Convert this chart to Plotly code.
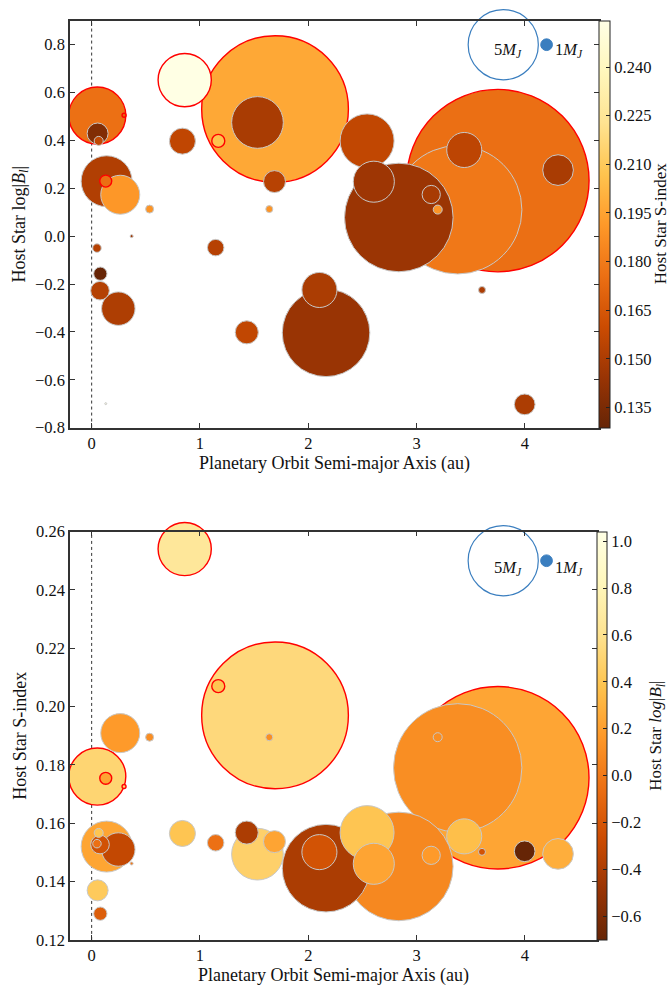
import numpy as np
import plotly.graph_objects as go

# ---------------- data ----------------
semi_major_axis = [3.75, 3.38, 2.836, 1.693, 2.164, 1.531, 0.859, 0.052, 0.299, 0.055,
                   0.065, 0.138, 0.13, 0.264, 0.535, 0.369, 0.838, 1.169, 1.688, 1.64,
                   1.145, 0.049, 0.08, 0.077, 0.246, 1.432, 2.103, 0.13, 2.543, 2.605,
                   3.135, 3.195, 3.44, 4.306, 3.604, 3.998]
log_b = [0.232, 0.11, 0.078, 0.531, -0.404, 0.475, 0.652, 0.504, 0.505, 0.429,
         0.398, 0.2295, 0.23, 0.173, 0.113, 0.0, 0.397, 0.398, 0.228, 0.113,
         -0.048, -0.05, -0.157, -0.228, -0.303, -0.402, -0.225, -0.70, 0.398, 0.2275,
         0.174, 0.111, 0.36, 0.276, -0.225, -0.703]
s_index = [0.1756, 0.179, 0.1452, 0.197, 0.1446, 0.1494, 0.254, 0.176, 0.1726, 0.137,
           0.1567, 0.152, 0.1754, 0.1909, 0.1895, 0.1462, 0.1565, 0.207, 0.1537, 0.1895,
           0.1533, 0.153, 0.129, 0.1527, 0.151, 0.1568, 0.1501, 0.27, 0.1568, 0.1461,
           0.149, 0.1895, 0.1555, 0.1495, 0.1502, 0.1504]
planet_mass = [11.8, 8.6, 7.4, 9.7, 6.1, 3.8, 3.9, 4.15, 0.38, 1.69,
               0.79, 3.75, 1.02, 2.95, 0.71, 0.29, 2.05, 1.10, 1.76, 0.63,
               1.36, 0.75, 1.12, 1.52, 2.57, 1.84, 2.68, 0.20, 3.95, 3.09,
               1.49, 0.79, 2.68, 2.38, 0.63, 1.67]
red_edge = [1, 0, 0, 1, 0, 0, 1, 1, 1, 0,
            0, 0, 1, 0, 0, 0, 0, 1, 0, 0,
            0, 0, 0, 0, 0, 0, 0, 0, 0, 0,
            0, 0, 0, 0, 0, 0]

s_color_range = [0.1288, 0.2543]
logb_color_range = [-0.70, 1.04]
legend_masses = [5, 1]
legend_x = [3.8, 4.2]
legend_y_top = 0.8
legend_y_bottom = 0.25

s_ticks = [0.135, 0.150, 0.165, 0.180, 0.195, 0.210, 0.225, 0.240]
logb_cb_ticks = [-0.6, -0.4, -0.2, 0.0, 0.2, 0.4, 0.6, 0.8, 1.0]
logb_axis_ticks = [-0.8, -0.6, -0.4, -0.2, 0.0, 0.2, 0.4, 0.6, 0.8]
s_axis_ticks = [0.12, 0.14, 0.16, 0.18, 0.20, 0.22, 0.24, 0.26]
x_ticks = [0, 1, 2, 3, 4]

x_range_top = [-0.2, 4.684]
x_range_bottom = [-0.2, 4.666]
y_range_top = [-0.8, 0.9]
y_range_bottom = [0.12, 0.26]

# ---------------- styling ----------------
W, H = 669, 998
FONT = "Liberation Serif"
TICK_FS = 16.5
TITLE_FS = 18
CB_TITLE_FS = 17
BLUE = "#3a7ebf"
FRAME = "#333333"

TOP_Y0, TOP_Y1 = 12, 426.7        # pixel rows of the top panel
BOT_Y0, BOT_Y1 = 532.7, 949       # pixel rows of the bottom panel
CB_TITLE_X_TOP = 660
CB_TITLE_X_BOT = 657


def diameter(m):
    return 11.7 * np.power(np.asarray(m, dtype=float), 1.113)


def fmt(v, d):
    s = f"{v:.{d}f}"
    return s.replace("-", "\u2212")


order = np.argsort(-np.asarray(planet_mass), kind="stable")
xa = np.asarray(semi_major_axis)[order]
lb = np.asarray(log_b)[order]
si = np.asarray(s_index)[order]
sz = diameter(np.asarray(planet_mass)[order])
red = np.asarray(red_edge)[order]
edge_col = np.array(["#ff0000" if r else "#c8c8c8" for r in red])
edge_w = np.array([1.4 if r else 1.0 for r in red])

# points whose centre lies outside an axis range are not drawn on that panel
in_top = (lb >= y_range_top[0]) & (lb <= y_range_top[1])
in_bot = (si >= y_range_bottom[0]) & (si <= y_range_bottom[1])

cscale = "YlOrBr_r"


def cbar(x_px, y0, y1, thick, vals, dec):
    return dict(x=x_px / W, xanchor="left", xpad=0,
                y=1 - (y0 + y1) / 2 / H, yanchor="middle", ypad=0,
                len=(y1 - y0) / H, lenmode="fraction", thickness=thick,
                outlinecolor="#222", outlinewidth=1,
                ticks="inside", ticklen=4, tickcolor="#222",
                tickvals=vals, ticktext=[fmt(v, dec) for v in vals],
                tickfont=dict(family=FONT, size=TICK_FS, color="#111"))


fig = go.Figure()

# top: log|B| vs a, coloured by S-index
fig.add_trace(go.Scatter(
    x=xa[in_top], y=lb[in_top], mode="markers", xaxis="x", yaxis="y", cliponaxis=False,
    marker=dict(size=sz[in_top], sizemode="diameter", color=si[in_top], colorscale=cscale,
                cmin=s_color_range[0], cmax=s_color_range[1], opacity=1,
                line=dict(color=list(edge_col[in_top]), width=list(edge_w[in_top])),
                colorbar=cbar(599, TOP_Y0, TOP_Y1, 11, s_ticks, 3)),
    showlegend=False, hoverinfo="skip"))

# bottom: S-index vs a, coloured by log|B|
fig.add_trace(go.Scatter(
    x=xa[in_bot], y=si[in_bot], mode="markers", xaxis="x2", yaxis="y2", cliponaxis=False,
    marker=dict(size=sz[in_bot], sizemode="diameter", color=lb[in_bot], colorscale=cscale,
                cmin=logb_color_range[0], cmax=logb_color_range[1], opacity=1,
                line=dict(color=list(edge_col[in_bot]), width=list(edge_w[in_bot])),
                colorbar=cbar(597, BOT_Y0, BOT_Y1, 10, logb_cb_ticks, 1)),
    showlegend=False, hoverinfo="skip"))

# mass legend markers
for xr, yr, ly in (("x", "y", legend_y_top), ("x2", "y2", legend_y_bottom)):
    fig.add_trace(go.Scatter(
        x=[legend_x[0]], y=[ly], mode="markers", xaxis=xr, yaxis=yr, cliponaxis=False,
        marker=dict(size=diameter(legend_masses[0]), color="rgba(0,0,0,0)",
                    line=dict(color=BLUE, width=1.2)),
        showlegend=False, hoverinfo="skip"))
    fig.add_trace(go.Scatter(
        x=[legend_x[1]], y=[ly], mode="markers", xaxis=xr, yaxis=yr, cliponaxis=False,
        marker=dict(size=diameter(legend_masses[1]), color=BLUE,
                    line=dict(color=BLUE, width=1)),
        showlegend=False, hoverinfo="skip"))

annotations = []
for xr, yr, ly in (("x", "y", 0.776), ("x2", "y2", 0.2475)):
    annotations.append(dict(x=3.693, y=ly, xref=xr, yref=yr, xanchor="left", yanchor="middle",
                            text=f"{legend_masses[0]}<i>M</i><sub><i>J</i></sub>", showarrow=False,
                            font=dict(family=FONT, size=TICK_FS, color="#111")))
    annotations.append(dict(x=4.263, y=ly, xref=xr, yref=yr, xanchor="left", yanchor="middle",
                            text=f"{legend_masses[1]}<i>M</i><sub><i>J</i></sub>", showarrow=False,
                            font=dict(family=FONT, size=TICK_FS, color="#111")))

# colour-bar titles
annotations.append(dict(x=CB_TITLE_X_TOP / W, y=1 - (TOP_Y0 + TOP_Y1) / 2 / H,
                        xref="paper", yref="paper",
                        xanchor="center", yanchor="middle", textangle=-90, showarrow=False,
                        text="Host Star S-index",
                        font=dict(family=FONT, size=CB_TITLE_FS, color="#111")))
annotations.append(dict(x=CB_TITLE_X_BOT / W, y=1 - (BOT_Y0 + BOT_Y1) / 2 / H,
                        xref="paper", yref="paper",
                        xanchor="center", yanchor="middle", textangle=-90, showarrow=False,
                        text="Host Star <i>log</i>|<i>B</i><sub><i>l</i></sub>|",
                        font=dict(family=FONT, size=CB_TITLE_FS, color="#111")))

shapes = []
for xr, yr in (("x", "y domain"), ("x2", "y2 domain")):
    shapes.append(dict(type="line", xref=xr, yref=yr, x0=0, x1=0, y0=0, y1=1,
                       line=dict(color="#333", width=1, dash="dot"), layer="below"))

axis_common = dict(showline=True, mirror="ticks", linecolor=FRAME, linewidth=1.5,
                   ticks="inside", ticklen=5, tickcolor=FRAME, showgrid=False, zeroline=False,
                   tickfont=dict(family=FONT, size=TICK_FS, color="#111"))

xtitle = dict(text="Planetary Orbit Semi-major Axis (au)",
              font=dict(family=FONT, size=TITLE_FS, color="#111"), standoff=4)

fig.update_layout(
    width=W, height=H, margin=dict(l=0, r=0, t=0, b=0),
    paper_bgcolor="white", plot_bgcolor="white",
    font=dict(family=FONT, color="#111"),
    xaxis=dict(domain=[70 / W, 599 / W], range=x_range_top, anchor="y",
               tickvals=x_ticks, ticktext=[str(v) for v in x_ticks], title=xtitle, **axis_common),
    yaxis=dict(domain=[1 - TOP_Y1 / H, 1 - TOP_Y0 / H], range=y_range_top, anchor="x",
               tickvals=logb_axis_ticks, ticktext=[fmt(v, 1) for v in logb_axis_ticks],
               title=dict(text="Host Star log|<i>B</i><sub><i>l</i></sub>|",
                          font=dict(family=FONT, size=TITLE_FS, color="#111"), standoff=5),
               **axis_common),
    xaxis2=dict(domain=[70 / W, 597 / W], range=x_range_bottom, anchor="y2",
                tickvals=x_ticks, ticktext=[str(v) for v in x_ticks], title=xtitle, **axis_common),
    yaxis2=dict(domain=[1 - BOT_Y1 / H, 1 - BOT_Y0 / H], range=y_range_bottom, anchor="x2",
                tickvals=s_axis_ticks, ticktext=[fmt(v, 2) for v in s_axis_ticks],
                title=dict(text="Host Star S-index",
                           font=dict(family=FONT, size=TITLE_FS, color="#111"), standoff=5),
                **axis_common),
    annotations=annotations, shapes=shapes,
)

fig.write_html("out.html")
